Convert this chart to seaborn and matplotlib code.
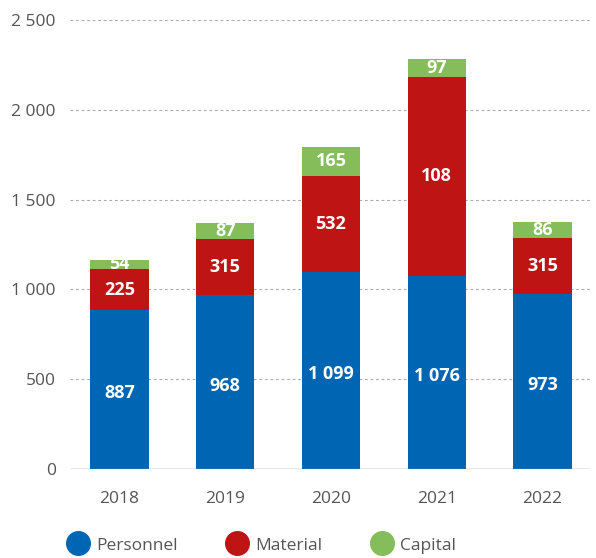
import numpy as np
import pandas as pd
import seaborn as sns
import matplotlib.pyplot as plt
from matplotlib.lines import Line2D

# Data
years = ["2018", "2019", "2020", "2021", "2022"]
personnel = [887, 968, 1099, 1076, 973]
material = [225, 315, 532, 1108, 315]
capital = [54, 87, 165, 97, 86]
material_labels = ["225", "315", "532", "108", "315"]

BLUE = "#0066b3"
RED = "#be1414"
GREEN = "#84bd5a"
GREY = "#555555"

sns.set_theme(style="white")
plt.rcParams['font.family'] = ['Open Sans', 'DejaVu Sans']

df = pd.DataFrame({"year": years, "personnel": personnel,
                   "material": material, "capital": capital})
df["pm"] = df["personnel"] + df["material"]
df["total"] = df["pm"] + df["capital"]

fig = plt.figure(figsize=(5.96, 5.58), dpi=100)
ax = fig.add_axes([0.117, 0.1595, 0.873, 0.8045])

# stacked bars by layering cumulative totals
for col, colour in [("total", GREEN), ("pm", RED), ("personnel", BLUE)]:
    sns.barplot(data=df, x="year", y=col, color=colour, width=0.55,
                saturation=1, ax=ax, zorder=3, linewidth=0)

def fmt(v):
    return f"{v:,}".replace(",", " ")

for i in range(len(years)):
    p, m, c = personnel[i], material[i], capital[i]
    kw = dict(ha="center", va="center", color="white", fontsize=13,
              fontweight="bold", zorder=5)
    ax.text(i, p / 2 - 20, fmt(p), **kw)
    ax.text(i, p + m / 2, material_labels[i], **kw)
    ax.text(i, p + m + c / 2, fmt(c), **kw)

ax.set_xlim(-0.47, 4.45)
ax.set_ylim(0, 2500)
ax.set_yticks(range(0, 2501, 500))
ax.set_yticklabels([fmt(v) for v in range(0, 2501, 500)])
ax.set_xlabel("")
ax.set_ylabel("")

for v in range(500, 2501, 500):
    ax.axhline(v, color="#aaaaaa", lw=0.8, ls=(0, (2.5, 2.5)), zorder=1)
ax.axhline(0, color="#888888", lw=1.0, zorder=4)

for s in ax.spines.values():
    s.set_visible(False)
ax.tick_params(axis="y", length=0, pad=10, labelsize=12.5, labelcolor=GREY)
ax.tick_params(axis="x", length=0, pad=16, labelsize=12.5, labelcolor=GREY)

handles = [Line2D([], [], marker="o", ls="", markersize=17, color=col)
           for col in (BLUE, RED, GREEN)]
fig.legend(handles, ["Personnel", "Material", "Capital"], loc="lower left",
           bbox_to_anchor=(0.088, -0.02), ncol=3, frameon=False,
           fontsize=12.5, labelcolor=GREY, handletextpad=0.45,
           columnspacing=2.8, handlelength=1.2)

fig.savefig("out.png", dpi=100)
